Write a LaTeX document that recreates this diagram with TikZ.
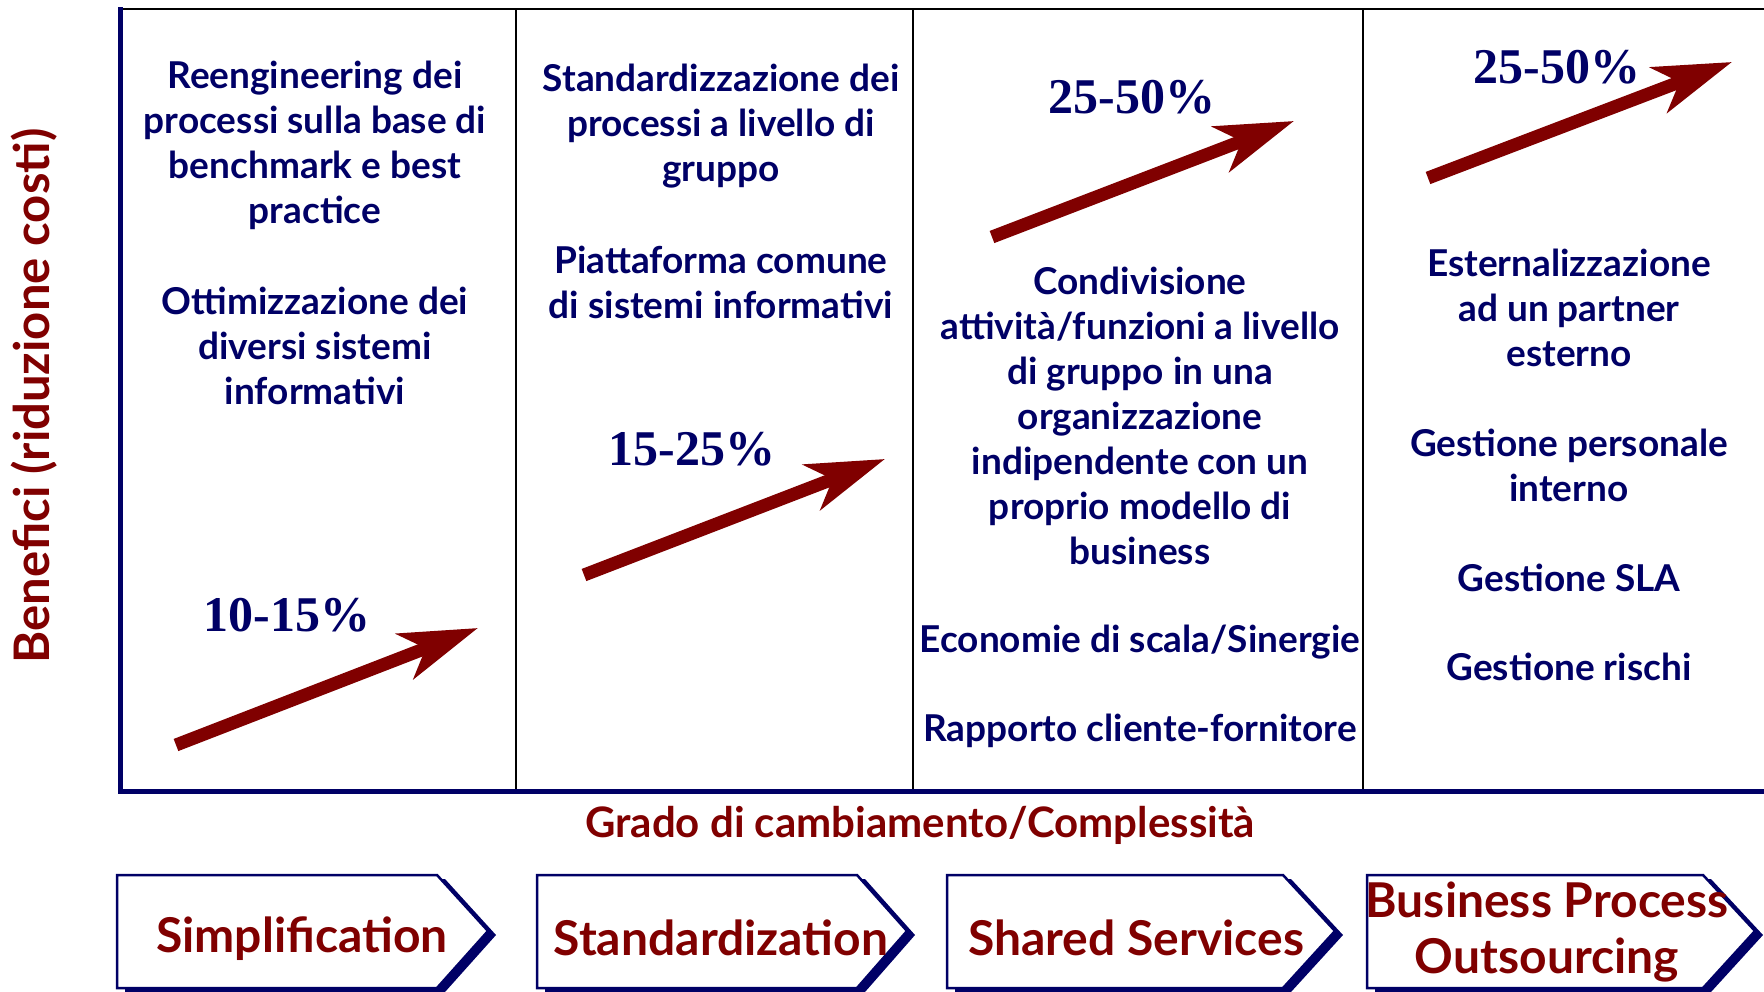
\documentclass[tikz,border=0pt]{standalone}
\usepackage{fontspec}
\setmainfont{Lato}
\newfontfamily\pctfont{Liberation Serif}
\usetikzlibrary{arrows.meta,shadows}
\definecolor{navy}{RGB}{0,0,102}
\definecolor{maroon}{RGB}{128,0,0}

\begin{document}
\begin{tikzpicture}[x=1pt, y=-1pt, >=Stealth,
   body/.style={text=navy, font=\bfseries\fontsize{37}{45}\selectfont, align=center},
   pct/.style={text=navy, font=\pctfont\bfseries\fontsize{50}{55}\selectfont},
   axislabel/.style={text=maroon, font=\bfseries\fontsize{42}{48}\selectfont},
   trend/.style={draw=maroon, line width=13pt, -{Stealth[length=78pt, width=48pt, inset=22pt]}},
   stage/.style={draw=navy, line width=2.5pt, fill=white,
      drop shadow={shadow xshift=8pt, shadow yshift=-4pt, fill=navy, opacity=1}},
   stagetext/.style={text=maroon, font=\bfseries\fontsize{48}{56}\selectfont, align=center}]
   \useasboundingbox (0,0) rectangle (1764,991);

   % frame
   \draw[line width=2.7pt] (120,9) -- (1764,9);
   \foreach \x in {516,913,1363}
      \draw[line width=2.5pt] (\x,9) -- (\x,791);
   \draw[navy, line width=5pt] (120,7) -- (120,791) -- (1764,791);

   \node (yaxis) at (34,396) [axislabel, font=\bfseries\fontsize{49}{54}\selectfont, rotate=90] {Benefici (riduzione costi)};
   \node (xaxis) at (920,825) [axislabel] {Grado di cambiamento/Complessit\`a};

   % column 1
   \node (s1a) at (315,145) [body] {Reengineering dei\\processi sulla base di\\benchmark e best\\practice};
   \node (s1b) at (315,346) [body] {Ottimizzazione dei\\diversi sistemi\\informativi};
   \node (p1) at (287,615) [pct] {10-15\%};
   \coordinate (a1) at (176,745);
   \coordinate (b1) at (478,628);
   \draw[trend] (a1) -- (b1);

   % column 2
   \node (s2a) at (721,126) [body] {Standardizzazione dei\\processi a livello di\\gruppo};
   \node (s2b) at (721,282) [body] {Piattaforma comune\\di sistemi informativi};
   \node (p2) at (692,449) [pct] {15-25\%};
   \coordinate (a2) at (584,575);
   \coordinate (b2) at (885,459);
   \draw[trend] (a2) -- (b2);

   % column 3
   \node (p3) at (1132,97) [pct] {25-50\%};
   \coordinate (a3) at (992,237);
   \coordinate (b3) at (1294,121);
   \draw[trend] (a3) -- (b3);
   \node (s3a) at (1140,416) [body] {Condivisione\\attivit\`a/funzioni a livello\\di gruppo in una\\organizzazione\\indipendente con un\\proprio modello di\\business};
   \node (s3b) at (1140,642) [body] {Economie di scala/Sinergie};
   \node (s3c) at (1140,731) [body] {Rapporto cliente-fornitore};

   % column 4
   \node (p4) at (1557,67) [pct] {25-50\%};
   \coordinate (a4) at (1428,178);
   \coordinate (b4) at (1732,62);
   \draw[trend] (a4) -- (b4);
   \node (s4a) at (1569,308) [body] {Esternalizzazione\\ad un partner\\esterno};
   \node (s4b) at (1569,465) [body] {Gestione personale\\interno};
   \node (s4c) at (1569,578) [body] {Gestione SLA};
   \node (s4d) at (1569,667) [body] {Gestione rischi};

   % stages
   \draw[stage] (117,875) -- (437,875) -- (488,931) -- (437,988) -- (117,988) -- cycle;
   \draw[stage] (537,875) -- (857,875) -- (907,931) -- (857,988) -- (537,988) -- cycle;
   \draw[stage] (947,875) -- (1283,875) -- (1335,931) -- (1283,988) -- (947,988) -- cycle;
   \draw[stage] (1367,875) -- (1703,875) -- (1755,931) -- (1703,988) -- (1367,988) -- cycle;
   \node (t1) at (302,939) [stagetext] {Simplification};
   \node (t2) at (721,938) [stagetext] {Standardization};
   \node (t3) at (1136,938) [stagetext] {Shared Services};
   \node (t4) at (1547,932) [stagetext] {Business Process\\Outsourcing};

\end{tikzpicture}
\end{document}
